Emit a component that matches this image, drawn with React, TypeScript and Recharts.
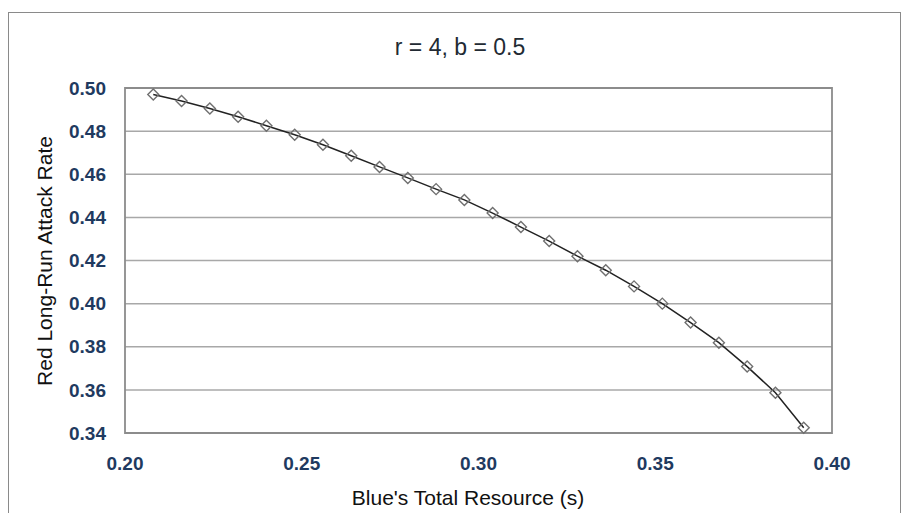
import React from "react";
import {
  LineChart,
  Line,
  XAxis,
  YAxis,
  CartesianGrid,
  ReferenceArea,
} from "recharts";

// Blue's total resource (s) and the resulting red long-run attack rate
const resource = [
  0.208, 0.216, 0.224, 0.232, 0.24, 0.248, 0.256, 0.264, 0.272, 0.28, 0.288, 0.296,
  0.304, 0.312, 0.32, 0.328, 0.336, 0.344, 0.352, 0.36, 0.368, 0.376, 0.384, 0.392,
];
const attackRate = [
  0.497, 0.494, 0.4905, 0.4867, 0.4825, 0.4783, 0.4737, 0.4686, 0.4634, 0.4583, 0.4531, 0.4481,
  0.442, 0.4355, 0.429, 0.422, 0.4155, 0.408, 0.4, 0.3912, 0.3819, 0.3708, 0.3587, 0.3424,
];
const xTicks = [0.2, 0.25, 0.3, 0.35, 0.4];
const yTicks = [0.34, 0.36, 0.38, 0.4, 0.42, 0.44, 0.46, 0.48, 0.5];

const data = resource.map((s, i) => ({ s, rate: attackRate[i] }));

const FONT = "Arial, 'Liberation Sans', Helvetica, sans-serif";
const TICK = { fontSize: 19, fontWeight: 700, fill: "#1f3a60", fontFamily: FONT };

// hollow diamond marker
function Diamond(props: any) {
  const { cx, cy, index } = props;
  if (cx == null || cy == null) return null;
  const r = 5.5;
  return (
    <polygon
      key={`d-${index}`}
      points={`${cx},${cy - r} ${cx + r},${cy} ${cx},${cy + r} ${cx - r},${cy}`}
      fill="none"
      stroke="#6f6f6f"
      strokeWidth={1.4}
    />
  );
}

export default function App() {
  return (
    <div
      style={{
        position: "absolute",
        left: 0,
        top: 0,
        width: 904,
        height: 513,
        background: "#fff",
        overflow: "hidden",
        fontFamily: FONT,
      }}
    >
      {/* outer chart border */}
      <div
        style={{
          position: "absolute",
          left: 8,
          top: 12,
          width: 893,
          height: 540,
          border: "1.5px solid #8a8a8a",
          boxSizing: "border-box",
        }}
      />
      <div
        style={{
          position: "absolute",
          left: 460,
          top: 47,
          transform: "translate(-50%, -50%)",
          fontSize: 23,
          color: "#222a33",
          whiteSpace: "nowrap",
        }}
      >
        r = 4, b = 0.5
      </div>
      <div
        style={{
          position: "absolute",
          left: 45,
          top: 261,
          transform: "translate(-50%, -50%) rotate(-90deg)",
          fontSize: 21,
          color: "#111",
          whiteSpace: "nowrap",
        }}
      >
        Red Long-Run Attack Rate
      </div>
      <div
        style={{
          position: "absolute",
          left: 468,
          top: 498,
          transform: "translate(-50%, -50%)",
          fontSize: 21,
          color: "#111",
          whiteSpace: "nowrap",
        }}
      >
        Blue's Total Resource (s)
      </div>
      <div style={{ position: "absolute", left: 0, top: 0 }}>
        <LineChart
          width={904}
          height={513}
          data={data}
          margin={{ top: 88, right: 72, bottom: 0, left: 0 }}
        >
          <CartesianGrid
            vertical={false}
            stroke="#a8a8a8"
            strokeWidth={1.5}
          />
          <XAxis
            type="number"
            dataKey="s"
            domain={[0.2, 0.4]}
            ticks={xTicks}
            tickFormatter={(v: number) => v.toFixed(2)}
            axisLine={false}
            tickLine={false}
            tickSize={0}
            tickMargin={24}
            height={80}
            tick={TICK}
            interval={0}
          />
          <YAxis
            type="number"
            domain={[0.34, 0.5]}
            ticks={yTicks}
            tickFormatter={(v: number) => v.toFixed(2)}
            axisLine={false}
            tickLine={false}
            tickSize={0}
            tickMargin={19}
            width={125}
            tick={TICK}
            interval={0}
          />
          <ReferenceArea
            x1={0.2}
            x2={0.4}
            y1={0.34}
            y2={0.5}
            fill="none"
            stroke="#8c8c8c"
            strokeWidth={1.8}
            ifOverflow="visible"
          />
          <Line
            type="linear"
            dataKey="rate"
            stroke="#222"
            strokeWidth={1.5}
            dot={Diamond}
            activeDot={false}
            isAnimationActive={false}
          />
        </LineChart>
      </div>
    </div>
  );
}
